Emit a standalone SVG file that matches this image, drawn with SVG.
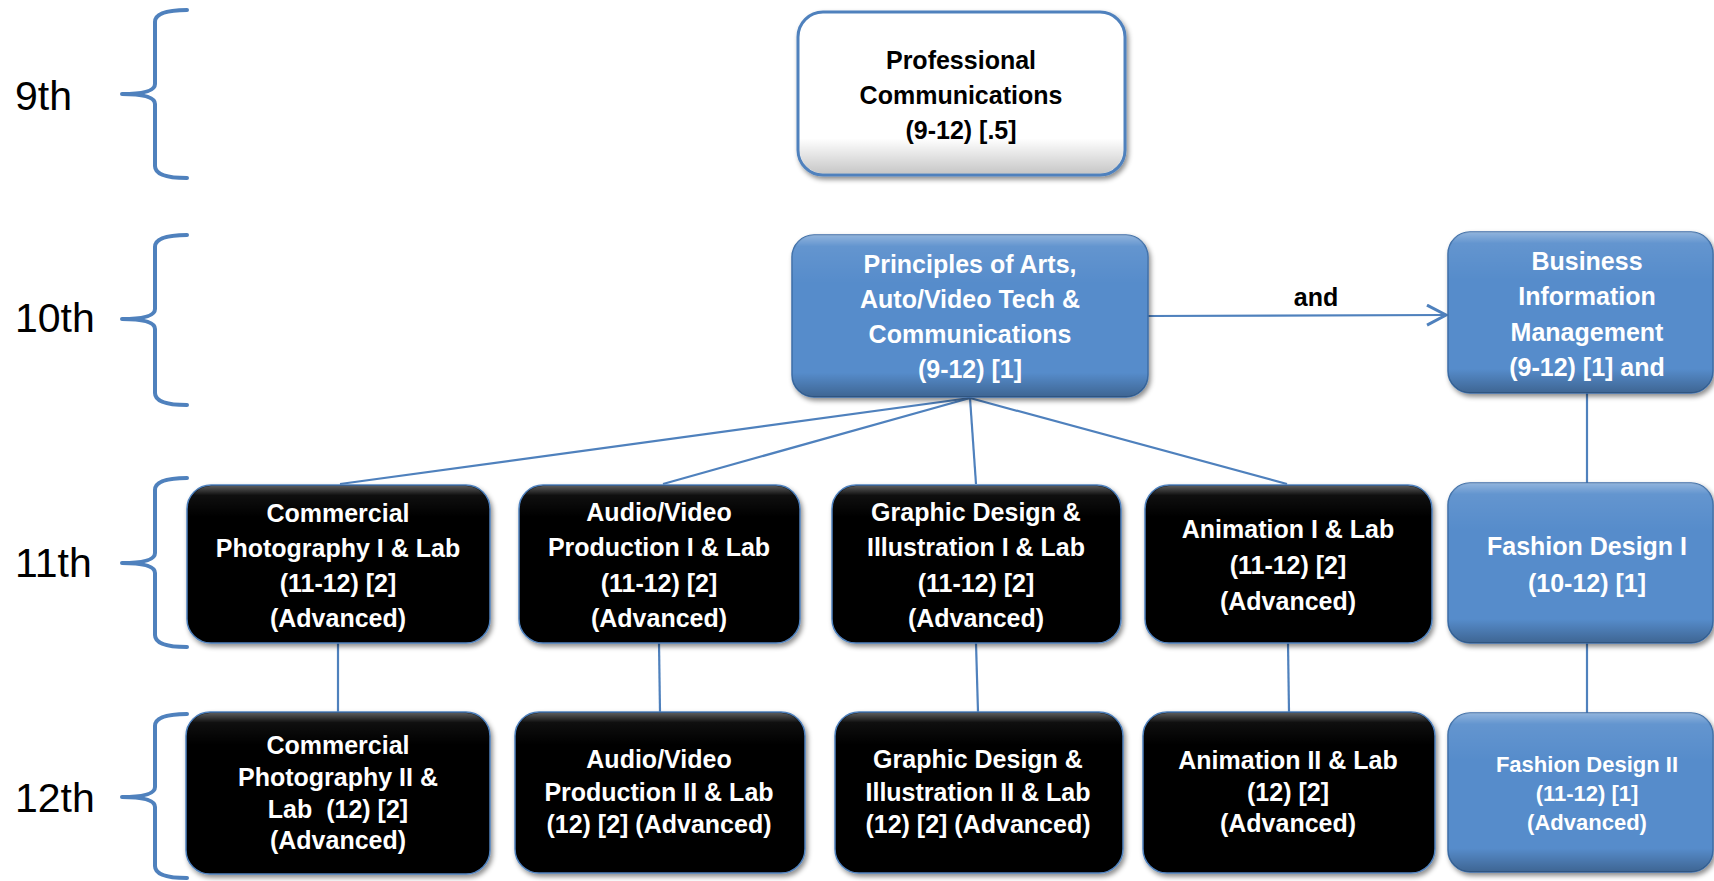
<svg xmlns="http://www.w3.org/2000/svg" width="1714" height="881" viewBox="0 0 1714 881">
<defs>
<filter id="sh" x="-10%" y="-10%" width="125%" height="130%">
<feDropShadow dx="2" dy="3" stdDeviation="2.5" flood-color="#000" flood-opacity="0.45"/>
</filter>
<linearGradient id="bevW" x1="0" y1="0" x2="0" y2="1">
<stop offset="0" stop-color="#fff" stop-opacity="0"/>
<stop offset="0.78" stop-color="#000" stop-opacity="0"/>
<stop offset="1" stop-color="#000" stop-opacity="0.22"/>
</linearGradient>
<linearGradient id="bevB" x1="0" y1="0" x2="0" y2="1">
<stop offset="0" stop-color="#fff" stop-opacity="0.35"/>
<stop offset="0.07" stop-color="#fff" stop-opacity="0.08"/>
<stop offset="0.3" stop-color="#fff" stop-opacity="0"/>
<stop offset="0.85" stop-color="#000" stop-opacity="0"/>
<stop offset="1" stop-color="#000" stop-opacity="0.28"/>
</linearGradient>
<linearGradient id="bevK" x1="0" y1="0" x2="0" y2="1">
<stop offset="0" stop-color="#fff" stop-opacity="0.35"/>
<stop offset="0.06" stop-color="#fff" stop-opacity="0.06"/>
<stop offset="0.2" stop-color="#fff" stop-opacity="0"/>
</linearGradient>
<marker id="arr" markerWidth="24" markerHeight="24" refX="20" refY="11" orient="auto" markerUnits="userSpaceOnUse">
<path d="M1,1 L20,11 L1,21" fill="none" stroke="#4F81BD" stroke-width="3"/>
</marker>
</defs>
<style>
.brace{fill:none;stroke:#4F81BD;stroke-width:4;stroke-linecap:round;stroke-linejoin:round}
.lbl{font-family:"Liberation Sans",Arial,sans-serif;font-size:41px;fill:#000}
.conn{stroke:#4F81BD;stroke-width:2.2;fill:none}
.t{font-family:"Liberation Sans",Arial,sans-serif;font-weight:bold;font-size:25px;text-anchor:middle}
.s{font-size:22px}
.tw{fill:#fff}
.tk{fill:#000}
.bw{fill:#fff;stroke:#4F81BD;stroke-width:3}
.bb{fill:#568CCB;stroke:#3C6EA8;stroke-width:1.5}
.bk{fill:#000;stroke:#4F81BD;stroke-width:1.5}
.ov{stroke:none}
</style>
<rect width="1714" height="881" fill="#fff"/>

<g id="grade-labels">
<text class="lbl" x="15" y="110">9th</text>
<text class="lbl" x="15" y="332">10th</text>
<text class="lbl" x="15" y="577">11th</text>
<text class="lbl" x="15" y="812">12th</text>
<path class="brace" d="M187,10 Q155,10 155,22 V84 Q155,94 122,94 Q155,94 155,104 V166 Q155,178 187,178"/>
<path class="brace" d="M187,235 Q155,235 155,247 V309 Q155,319 122,319 Q155,319 155,329 V393 Q155,405 187,405"/>
<path class="brace" d="M187,478 Q155,478 155,490 V553 Q155,563 122,563 Q155,563 155,573 V635 Q155,647 187,647"/>
<path class="brace" d="M187,714 Q155,714 155,726 V787 Q155,797 122,797 Q155,797 155,807 V866 Q155,878 187,878"/>
</g>

<g id="connectors">
<path class="conn" d="M970,398 L340,484"/>
<path class="conn" d="M970,398 L663,484"/>
<path class="conn" d="M970,398 L976,484"/>
<path class="conn" d="M970,398 L1287,484"/>
<path class="conn" d="M338,643 V712"/>
<path class="conn" d="M659,643 L660,712"/>
<path class="conn" d="M976,643 L978,712"/>
<path class="conn" d="M1288,643 L1289,712"/>
<path class="conn" d="M1587,393 V483"/>
<path class="conn" d="M1587,643 V713"/>
<path class="conn" d="M1148,316 L1446,315" stroke-width="3" marker-end="url(#arr)"/>
<text class="t tk" x="1316" y="306">and</text>
</g>

<g id="professional-communications">
<rect class="bw" x="798" y="12" width="327" height="163" rx="25" filter="url(#sh)"/>
<rect class="ov" x="799.5" y="13.5" width="324" height="160" rx="24" fill="url(#bevW)"/>
<text class="t tk"><tspan x="961" y="69">Professional</tspan><tspan x="961" y="104">Communications</tspan><tspan x="961" y="139">(9-12) [.5]</tspan></text>
</g>

<g id="principles">
<rect class="bb" x="792" y="235" width="356" height="162" rx="22" filter="url(#sh)"/>
<rect class="ov" x="792" y="235" width="356" height="162" rx="22" fill="url(#bevB)"/>
<text class="t tw"><tspan x="970" y="273">Principles of Arts,</tspan><tspan x="970" y="308">Auto/Video Tech &amp;</tspan><tspan x="970" y="343">Communications</tspan><tspan x="970" y="378">(9-12) [1]</tspan></text>
</g>

<g id="business-information-management">
<rect class="bb" x="1448" y="232" width="265" height="161" rx="22" filter="url(#sh)"/>
<rect class="ov" x="1448" y="232" width="265" height="161" rx="22" fill="url(#bevB)"/>
<text class="t tw"><tspan x="1587" y="270">Business</tspan><tspan x="1587" y="305">Information</tspan><tspan x="1587" y="341">Management</tspan><tspan x="1587" y="376">(9-12) [1] and</tspan></text>
</g>

<g id="fashion-design-1">
<rect class="bb" x="1448" y="483" width="265" height="160" rx="22" filter="url(#sh)"/>
<rect class="ov" x="1448" y="483" width="265" height="160" rx="22" fill="url(#bevB)"/>
<text class="t tw"><tspan x="1587" y="555">Fashion Design I</tspan><tspan x="1587" y="592">(10-12) [1]</tspan></text>
</g>

<g id="fashion-design-2">
<rect class="bb" x="1448" y="713" width="265" height="159" rx="22" filter="url(#sh)"/>
<rect class="ov" x="1448" y="713" width="265" height="159" rx="22" fill="url(#bevB)"/>
<text class="t s tw"><tspan x="1587" y="772">Fashion Design II</tspan><tspan x="1587" y="801">(11-12) [1]</tspan><tspan x="1587" y="830">(Advanced)</tspan></text>
</g>

<g id="commercial-photography-1">
<rect class="bk" x="187" y="485" width="303" height="158" rx="24" filter="url(#sh)"/>
<rect class="ov" x="188" y="486" width="301" height="156" rx="23" fill="url(#bevK)"/>
<text class="t tw"><tspan x="338" y="522">Commercial</tspan><tspan x="338" y="557">Photography I &amp; Lab</tspan><tspan x="338" y="592">(11-12) [2]</tspan><tspan x="338" y="627">(Advanced)</tspan></text>
</g>

<g id="audio-video-1">
<rect class="bk" x="519" y="485" width="281" height="158" rx="24" filter="url(#sh)"/>
<rect class="ov" x="520" y="486" width="279" height="156" rx="23" fill="url(#bevK)"/>
<text class="t tw"><tspan x="659" y="521">Audio/Video</tspan><tspan x="659" y="556">Production I &amp; Lab</tspan><tspan x="659" y="592">(11-12) [2]</tspan><tspan x="659" y="627">(Advanced)</tspan></text>
</g>

<g id="graphic-design-1">
<rect class="bk" x="832" y="485" width="289" height="158" rx="24" filter="url(#sh)"/>
<rect class="ov" x="833" y="486" width="287" height="156" rx="23" fill="url(#bevK)"/>
<text class="t tw"><tspan x="976" y="521">Graphic Design &amp;</tspan><tspan x="976" y="556">Illustration I &amp; Lab</tspan><tspan x="976" y="592">(11-12) [2]</tspan><tspan x="976" y="627">(Advanced)</tspan></text>
</g>

<g id="animation-1">
<rect class="bk" x="1145" y="485" width="287" height="158" rx="24" filter="url(#sh)"/>
<rect class="ov" x="1146" y="486" width="285" height="156" rx="23" fill="url(#bevK)"/>
<text class="t tw"><tspan x="1288" y="538">Animation I &amp; Lab</tspan><tspan x="1288" y="574">(11-12) [2]</tspan><tspan x="1288" y="610">(Advanced)</tspan></text>
</g>

<g id="commercial-photography-2">
<rect class="bk" x="186" y="712" width="304" height="162" rx="24" filter="url(#sh)"/>
<rect class="ov" x="187" y="713" width="302" height="160" rx="23" fill="url(#bevK)"/>
<text class="t tw"><tspan x="338" y="754">Commercial</tspan><tspan x="338" y="786">Photography II &amp;</tspan><tspan x="338" y="818">Lab&#160; (12) [2]</tspan><tspan x="338" y="849">(Advanced)</tspan></text>
</g>

<g id="audio-video-2">
<rect class="bk" x="515" y="712" width="290" height="161" rx="24" filter="url(#sh)"/>
<rect class="ov" x="516" y="713" width="288" height="159" rx="23" fill="url(#bevK)"/>
<text class="t tw"><tspan x="659" y="768">Audio/Video</tspan><tspan x="659" y="801">Production II &amp; Lab</tspan><tspan x="659" y="833">(12) [2] (Advanced)</tspan></text>
</g>

<g id="graphic-design-2">
<rect class="bk" x="835" y="712" width="288" height="161" rx="24" filter="url(#sh)"/>
<rect class="ov" x="836" y="713" width="286" height="159" rx="23" fill="url(#bevK)"/>
<text class="t tw"><tspan x="978" y="768">Graphic Design &amp;</tspan><tspan x="978" y="801">Illustration II &amp; Lab</tspan><tspan x="978" y="833">(12) [2] (Advanced)</tspan></text>
</g>

<g id="animation-2">
<rect class="bk" x="1143" y="712" width="292" height="161" rx="24" filter="url(#sh)"/>
<rect class="ov" x="1144" y="713" width="290" height="159" rx="23" fill="url(#bevK)"/>
<text class="t tw"><tspan x="1288" y="769">Animation II &amp; Lab</tspan><tspan x="1288" y="801">(12) [2]</tspan><tspan x="1288" y="832">(Advanced)</tspan></text>
</g>
</svg>
